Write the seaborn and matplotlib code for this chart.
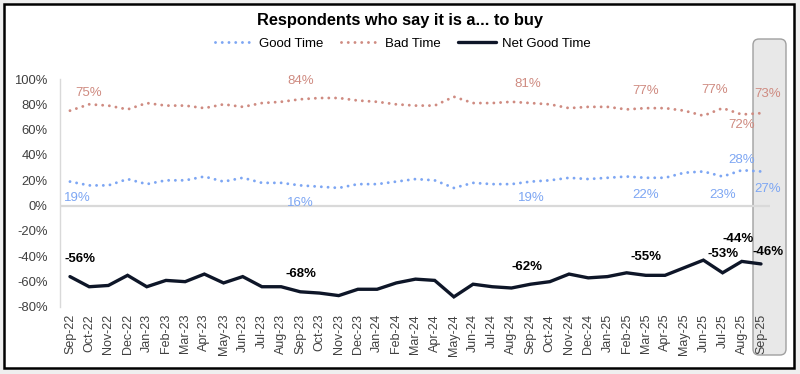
import matplotlib
matplotlib.use("Agg")
import matplotlib.pyplot as plt
import matplotlib.transforms as mtransforms
from matplotlib.patches import FancyBboxPatch, Rectangle
from matplotlib.lines import Line2D
import seaborn as sns
import numpy as np
import pandas as pd

# ---------------- data ----------------
months = ["Sep-22", "Oct-22", "Nov-22", "Dec-22", "Jan-23", "Feb-23", "Mar-23", "Apr-23",
          "May-23", "Jun-23", "Jul-23", "Aug-23", "Sep-23", "Oct-23", "Nov-23", "Dec-23",
          "Jan-24", "Feb-24", "Mar-24", "Apr-24", "May-24", "Jun-24", "Jul-24", "Aug-24",
          "Sep-24", "Oct-24", "Nov-24", "Dec-24", "Jan-25", "Feb-25", "Mar-25", "Apr-25",
          "May-25", "Jun-25", "Jul-25", "Aug-25", "Sep-25"]
good_time = [19, 16, 16, 21, 17, 20, 20, 23, 19, 22, 18, 18, 16, 15, 14, 17,
             17, 19, 21, 20, 14, 18, 17, 17, 19, 20, 22, 21, 22, 23, 22, 22,
             26, 27, 23, 28, 27]
bad_time = [75, 80, 79, 76, 81, 79, 79, 77, 80, 78, 81, 82, 84, 85, 85, 83,
            82, 80, 79, 79, 86, 81, 81, 82, 81, 80, 77, 78, 78, 76, 77, 77,
            75, 71, 77, 72, 73]
net_good_time = [-56, -64, -63, -55, -64, -59, -60, -54, -61, -56, -64, -64, -68, -69, -71, -66,
                 -66, -61, -58, -59, -72, -62, -64, -65, -62, -60, -54, -57, -56, -53, -55, -55,
                 -49, -43, -53, -44, -46]
series_names = ["Good Time", "Bad Time", "Net Good Time"]
title_text = "Respondents who say it is a... to buy"
y_ticks = [-80, -60, -40, -20, 0, 20, 40, 60, 80, 100]

# labelled points: month index -> (dx, dy) offsets in pixels
good_labels = {0: (7, -16), 12: (0, -18), 24: (1, -16), 30: (0, -17), 34: (0, -18), 35: (0, 10), 36: (7, -18)}
bad_labels = {0: (19, 18), 12: (0, 18), 24: (-3, 19), 30: (0, 17), 34: (-8, 18), 35: (0, -11), 36: (7, 19)}
net_labels = {0: (10, 18), 12: (1, 18), 24: (-4, 17), 30: (0, 18), 34: (0, 19), 35: (-4, 22), 36: (7, 12)}

# ---------------- style ----------------
BLUE = "#7da6f3"
RED = "#cf8b81"
NAVY = "#0e1628"
GRID = "#d9d9d9"
TICK = "#404040"

sns.set_theme(style="white")
plt.rcParams["font.family"] = ["Liberation Sans", "DejaVu Sans"]

W, H = 800, 374
fig = plt.figure(figsize=(W / 100, H / 100), dpi=100)
fig.patch.set_facecolor("#efefef")
ident = mtransforms.IdentityTransform()

# white card with black frame
frame = Rectangle((4, H - 368), 790, 364, transform=ident, facecolor="white",
                  edgecolor="black", lw=1.8, zorder=-3)
fig.add_artist(frame)
# highlight box for latest month
hbox = FancyBboxPatch((753, H - 355), 33, 316, boxstyle="round,pad=0,rounding_size=6",
                      transform=ident, facecolor="#e8e8e8", edgecolor="#a0a0a0", lw=1, zorder=-1)
fig.add_artist(hbox)

ax = fig.add_axes([60 / W, 1 - 307 / H, 710 / W, 228 / H])
ax.set_facecolor("none")

x = np.arange(len(months))
df = pd.DataFrame({"x": x, "good": good_time, "bad": bad_time, "net": net_good_time})

DOT_LW = 2.1
dot_style = (0, (0.01, 2.3))
sns.lineplot(data=df, x="x", y="good", ax=ax, color=BLUE, lw=DOT_LW, linestyle=dot_style,
             dash_capstyle="round", zorder=3)
sns.lineplot(data=df, x="x", y="bad", ax=ax, color=RED, lw=DOT_LW, linestyle=dot_style,
             dash_capstyle="round", zorder=3)
sns.lineplot(data=df, x="x", y="net", ax=ax, color=NAVY, lw=2.4, zorder=4,
             solid_joinstyle="miter")

ax.axhline(0, color=GRID, lw=1.6, zorder=1)

ax.set_xlim(-0.52, len(months) - 0.53)
ax.set_ylim(y_ticks[0], y_ticks[-1])
ax.set_yticks(y_ticks)
ax.set_yticklabels([f"{t}%" for t in y_ticks])
ax.set_xticks(x)
ax.set_xticklabels(months, rotation=90)
ax.tick_params(axis="y", length=0, pad=9, labelsize=9.4, labelcolor=TICK)
ax.tick_params(axis="x", length=0, pad=5, labelsize=9, labelcolor=TICK)
ax.set_xlabel("")
ax.set_ylabel("")
ax.grid(False)
for s in ["top", "right", "bottom"]:
    ax.spines[s].set_visible(False)
ax.spines["left"].set_color(GRID)
ax.spines["left"].set_linewidth(1)

# data labels
for vals, spec, color, weight in [(good_time, good_labels, BLUE, "normal"),
                                  (bad_time, bad_labels, RED, "normal"),
                                  (net_good_time, net_labels, "black", "bold")]:
    for i, (dx, dy) in spec.items():
        ax.annotate(f"{vals[i]}%", xy=(x[i], vals[i]), xytext=(dx, dy),
                    textcoords="offset pixels", ha="center", va="center",
                    fontsize=9.5, color=color, fontweight=weight, zorder=5,
                    annotation_clip=False)

# title and legend
fig.text(400 / W, 1 - 20 / H, title_text, ha="center", va="center",
         fontsize=11.8, fontweight="bold", color="black")
handles = [
    Line2D([], [], color=BLUE, lw=DOT_LW, linestyle=dot_style, dash_capstyle="round"),
    Line2D([], [], color=RED, lw=DOT_LW, linestyle=dot_style, dash_capstyle="round"),
    Line2D([], [], color=NAVY, lw=2.4),
]
fig.legend(handles, series_names, loc="center", bbox_to_anchor=(403 / W, 1 - 44 / H),
           ncol=3, frameon=False, fontsize=9.5, handlelength=2.9, handletextpad=0.45,
           columnspacing=1.3, labelcolor="black")

fig.savefig("out.png", dpi=100, facecolor=fig.get_facecolor())
